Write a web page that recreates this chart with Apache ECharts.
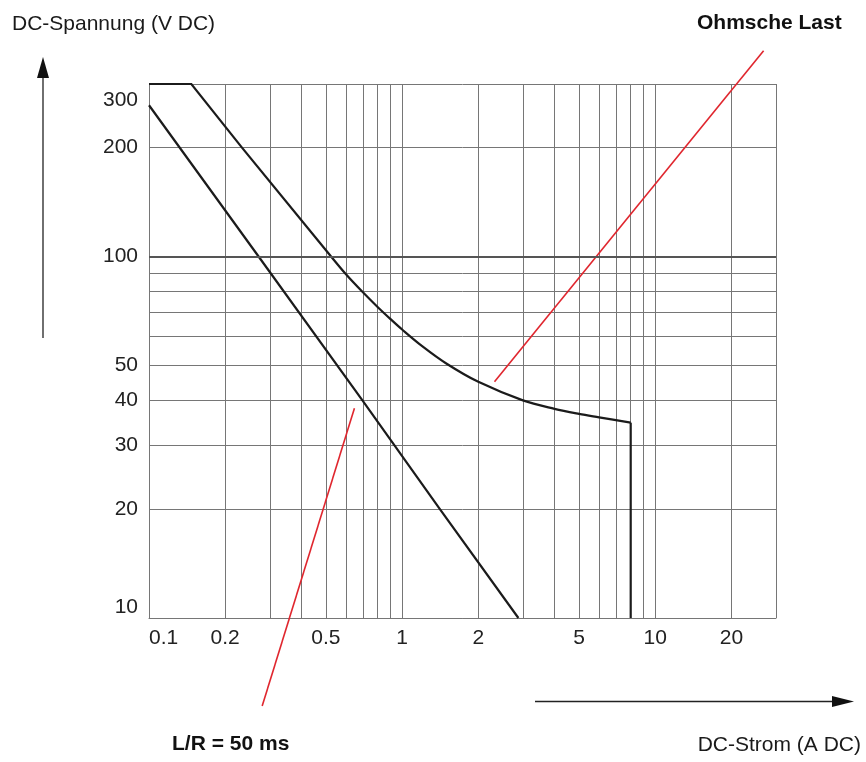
<!DOCTYPE html>
<html>
<head>
<meta charset="utf-8">
<script src="https://cdn.jsdelivr.net/npm/echarts@6/dist/echarts.min.js"></script>
<style>
html,body{margin:0;padding:0;background:#fff;}
#chart{width:866px;height:762px;}
</style>
</head>
<body>
<div id="chart"></div>
<script>
// ---- data ----
const xGridValues = [0.1,0.2,0.3,0.4,0.5,0.6,0.7,0.8,0.9,1,2,3,4,5,6,7,8,9,10,20,30];
const xLabelValues = [0.1,0.2,0.5,1,2,5,10,20];
const yGridValues = [10,20,30,40,50,60,70,80,90,100,200,300];
const yLabelValues = [10,20,30,40,50,100,200,300];

// L/R = 50 ms curve
const lrCurrent = [0.1, 0.271, 0.697, 1.41, 2.88];
const lrVoltage = [262, 100, 40, 20, 10];

// Ohmsche Last curve: straight part, knee, vertical cut-off
const ohmStraightCurrent = [0.1, 0.147, 0.233, 0.524];
const ohmStraightVoltage = [300, 300, 200, 100];
const ohmKneeCurrent = [0.524, 0.6, 0.7, 0.8, 0.9, 1, 1.2, 1.5, 2, 3, 4, 5, 6, 8];
const ohmKneeVoltage = [100, 89.3, 79.6, 72.5, 67.1, 62.8, 56.5, 50.5, 45.0, 40.0, 37.9, 36.7, 35.9, 34.7];
const ohmCutCurrent = [8, 8];
const ohmCutVoltage = [34.7, 10];

// leader lines for the labels
const ohmLeaderCurrent = [2.317, 26.8];
const ohmLeaderVoltage = [45.05, 371];
const lrLeaderCurrent = [0.648, 0.280];
const lrLeaderVoltage = [38.05, 5.71];

const refLineVoltage = [100];

const xTitle = 'DC-Strom (A DC)';
const yTitle = 'DC-Spannung (V DC)';
const ohmLabel = 'Ohmsche Last';
const lrLabel = 'L/R = 50 ms';

// ---- chart ----
const FONT = '"Liberation Sans", Arial, Helvetica, sans-serif';
const zip = (a, b) => a.map((v, i) => [v, b[i]]);
const fmt = v => String(+(+v).toPrecision(6));
const GRID_COLOR = '#767676';
const CURVE = {color: '#1b1b1b', width: 2.2, join: 'miter'};
const yMax = yLabelValues[yLabelValues.length - 1];

const chart = echarts.init(document.getElementById('chart'), null, {renderer: 'canvas'});
chart.setOption({
  animation: false,
  backgroundColor: '#fff',
  textStyle: {fontFamily: FONT},
  grid: {left: 149, right: 90, top: 84, bottom: 144, containLabel: false},
  xAxis: {
    type: 'log', logBase: 10, min: 0.1, max: 30,
    axisLine: {show: true, lineStyle: {color: GRID_COLOR, width: 1}},
    axisTick: {show: false, customValues: xGridValues},
    splitLine: {show: true, lineStyle: {color: GRID_COLOR, width: 1}},
    minorSplitLine: {show: false},
    axisLabel: {
      customValues: xLabelValues, formatter: fmt,
      fontFamily: FONT, fontSize: 21, color: '#222', margin: 10,
      alignMinLabel: 'left', hideOverlap: false, showMinLabel: true, showMaxLabel: true
    }
  },
  yAxis: {
    type: 'log', logBase: 10, min: 10, max: 300,
    axisLine: {show: true, lineStyle: {color: GRID_COLOR, width: 1}},
    axisTick: {show: false, customValues: yGridValues},
    splitLine: {show: true, lineStyle: {color: GRID_COLOR, width: 1}},
    axisLabel: {
      customValues: yLabelValues,
      formatter: v => (Math.abs(v - yMax) < 1e-6 ? '{mx|' + fmt(v) + '}' : fmt(v)),
      rich: {mx: {fontFamily: FONT, fontSize: 21, color: '#222', lineHeight: 33}},
      fontFamily: FONT, fontSize: 21, color: '#222', margin: 11,
      verticalAlignMinLabel: 'bottom', verticalAlignMaxLabel: 'top',
      hideOverlap: false, showMinLabel: true, showMaxLabel: true
    }
  },
  series: [
    {
      type: 'line', name: 'ref100', data: [], silent: true,
      markLine: {
        silent: true, symbol: ['none', 'none'], label: {show: false},
        lineStyle: {color: '#555', width: 2, type: 'solid'},
        data: refLineVoltage.map(v => ({yAxis: v}))
      }
    },
    {
      type: 'line', name: 'L/R = 50 ms', data: zip(lrCurrent, lrVoltage),
      showSymbol: false, symbol: 'none', smooth: false, clip: true,
      lineStyle: CURVE
    },
    {
      type: 'line', name: 'Ohmsche Last (1)', data: zip(ohmStraightCurrent, ohmStraightVoltage),
      showSymbol: false, symbol: 'none', smooth: false, clip: false, lineStyle: CURVE
    },
    {
      type: 'line', name: 'Ohmsche Last (2)', data: zip(ohmKneeCurrent, ohmKneeVoltage),
      showSymbol: false, symbol: 'none', smooth: 0.35, clip: false, lineStyle: CURVE
    },
    {
      type: 'line', name: 'Ohmsche Last (3)', data: zip(ohmCutCurrent, ohmCutVoltage),
      showSymbol: false, symbol: 'none', smooth: false, clip: false, lineStyle: CURVE
    },
    {
      type: 'line', name: 'ohmLeader', data: zip(ohmLeaderCurrent, ohmLeaderVoltage),
      showSymbol: false, symbol: 'none', clip: false,
      lineStyle: {color: '#e0262e', width: 1.6}
    },
    {
      type: 'line', name: 'lrLeader', data: zip(lrLeaderCurrent, lrLeaderVoltage),
      showSymbol: false, symbol: 'none', clip: false,
      lineStyle: {color: '#e0262e', width: 1.6}
    }
  ],
  graphic: [
    {type: 'text', left: 12, top: 14, style: {text: yTitle, font: '21px ' + FONT, fill: '#1a1a1a'}},
    {type: 'text', left: 697, top: 13, style: {text: ohmLabel, font: 'bold 21px ' + FONT, fill: '#111'}},
    {type: 'text', left: 172, top: 734, style: {text: lrLabel, font: 'bold 21px ' + FONT, fill: '#111'}},
    {type: 'text', right: 5, top: 735, style: {text: xTitle, font: '21px ' + FONT, fill: '#1a1a1a'}},
    {type: 'line', shape: {x1: 43, y1: 76, x2: 43, y2: 338}, style: {stroke: '#222', lineWidth: 1.3}},
    {type: 'polygon', shape: {points: [[43, 57], [37, 78], [49, 78]]}, style: {fill: '#111'}},
    {type: 'line', shape: {x1: 535, y1: 701.5, x2: 834, y2: 701.5}, style: {stroke: '#222', lineWidth: 1.3}},
    {type: 'polygon', shape: {points: [[854, 701.5], [832, 696], [832, 707]]}, style: {fill: '#111'}}
  ]
});
</script>
</body>
</html>
